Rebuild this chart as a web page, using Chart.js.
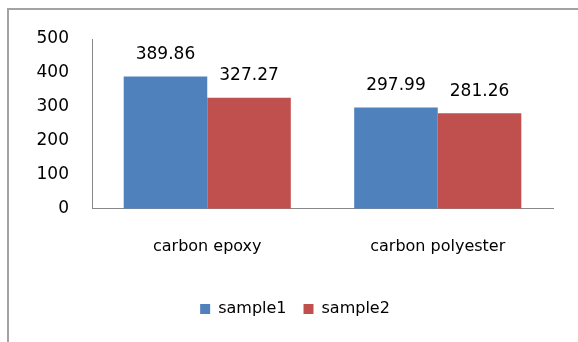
<!DOCTYPE html>
<html>
<head>
<meta charset="utf-8">
<script src="https://cdn.jsdelivr.net/npm/chart.js@4"></script>
<style>
  html, body { margin: 0; padding: 0; background: #fff; overflow: hidden; }
  canvas { display: block; }
</style>
</head>
<body>
<canvas id="chart" width="578" height="342"></canvas>
<script>
const categories = ['carbon epoxy', 'carbon polyester'];
const sample1 = [389.86, 297.99];
const sample2 = [327.27, 281.26];
const yTicks = [0, 100, 200, 300, 400, 500];

const FONT = 'DejaVu Sans';

// grey frame along the top and left edges
const frame = {
    id: 'frame',
    beforeDraw(chart) {
        const ctx = chart.ctx;
        ctx.save();
        ctx.fillStyle = '#a3a3a3';
        ctx.fillRect(7, 8, chart.width, 2);
        ctx.fillRect(7, 8, 2, chart.height);
        ctx.restore();
    }
};

// prints each bar's value above it
const valueLabels = {
    id: 'valueLabels',
    afterDatasetsDraw(chart) {
        const ctx = chart.ctx;
        ctx.save();
        ctx.font = '17px "' + FONT + '"';
        ctx.fillStyle = '#000';
        ctx.textAlign = 'center';
        ctx.textBaseline = 'middle';
        chart.data.datasets.forEach((ds, i) => {
            chart.getDatasetMeta(i).data.forEach((bar, j) => {
                ctx.fillText(ds.data[j].toFixed(2), bar.x, bar.y - 22);
            });
        });
        ctx.restore();
    }
};

new Chart(document.getElementById('chart'), {
    type: 'bar',
    data: {
        labels: categories,
        datasets: [
            { label: 'sample1', data: sample1, backgroundColor: '#4f81bd', borderWidth: 0 },
            { label: 'sample2', data: sample2, backgroundColor: '#c0504d', borderWidth: 0 }
        ]
    },
    options: {
        responsive: false,
        animation: false,
        layout: { padding: { left: 37, right: 25, top: 39, bottom: 15 } },
        datasets: { bar: { categoryPercentage: 0.725, barPercentage: 1 } },
        scales: {
            x: {
                grid: { display: false, drawTicks: false },
                border: { display: true, color: '#888', width: 1 },
                ticks: { color: '#000', padding: 28, font: { family: FONT, size: 16 } }
            },
            y: {
                min: yTicks[0],
                max: yTicks[yTicks.length - 1],
                afterBuildTicks(scale) { scale.ticks = yTicks.map(v => ({ value: v })); },
                afterFit(scale) { scale.width = 55; },
                grid: { display: false, drawTicks: false },
                border: { display: true, color: '#888', width: 1 },
                ticks: { color: '#000', padding: 23, font: { family: FONT, size: 17 } }
            }
        },
        plugins: {
            legend: {
                position: 'bottom',
                labels: {
                    color: '#000',
                    boxWidth: 10,
                    boxHeight: 10,
                    padding: 17,
                    font: { family: FONT, size: 16 }
                }
            },
            tooltip: { enabled: false }
        }
    },
    plugins: [frame, valueLabels]
});
</script>
</body>
</html>
